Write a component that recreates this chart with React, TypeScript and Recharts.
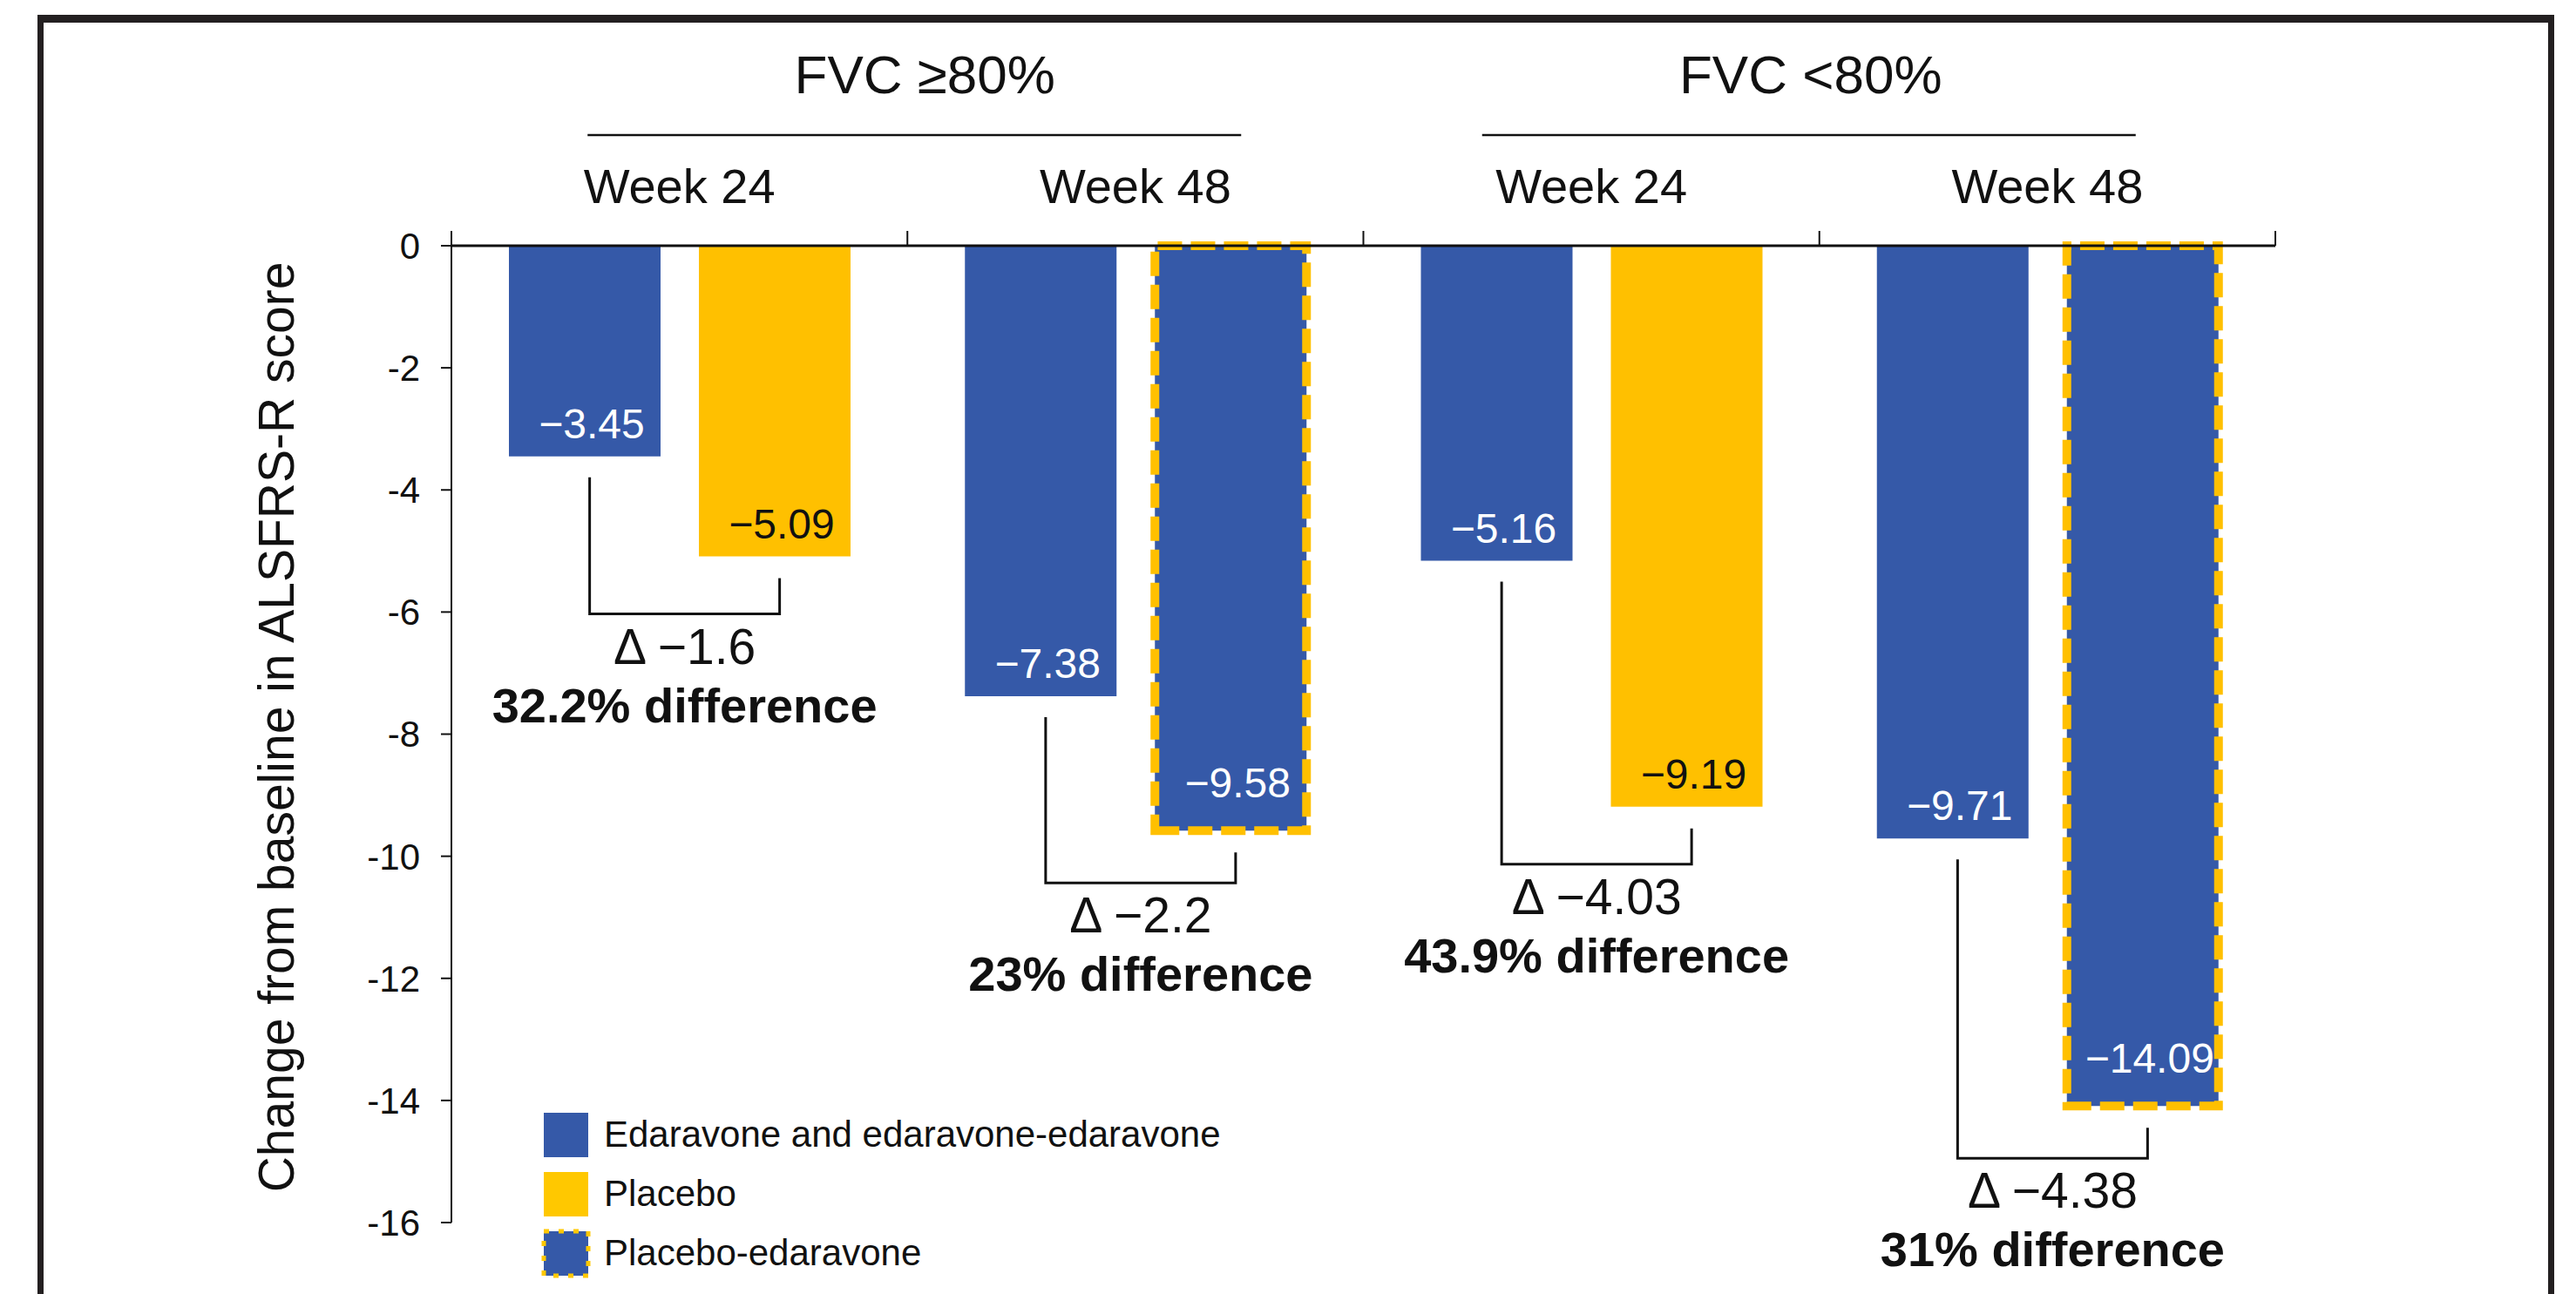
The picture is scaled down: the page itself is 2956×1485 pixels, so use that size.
import { BarChart, Bar, XAxis, YAxis, Cell, LabelList, Legend, ReferenceLine } from "recharts";

const groups = ["FVC ≥80%", "FVC ≥80%", "FVC <80%", "FVC <80%"];
const weeks = ["Week 24", "Week 48", "Week 24", "Week 48"];
const edaravone = [-3.45, -7.38, -5.16, -9.71];
const comparator = [-5.09, -9.58, -9.19, -14.09];
const comparatorArm = ["Placebo", "Placebo-edaravone", "Placebo", "Placebo-edaravone"];
const deltas = [-1.6, -2.2, -4.03, -4.38];
const pctDifference = [32.2, 23, 43.9, 31];
const yTicks = [0, -2, -4, -6, -8, -10, -12, -14, -16];
const legendItems = ["Edaravone and edaravone-edaravone", "Placebo", "Placebo-edaravone"];

const data = weeks.map((w, i) => ({
  key: `${groups[i]} ${w}`,
  edaravone: edaravone[i],
  comparator: comparator[i],
}));

const W = 2956;
const H = 1485;
const PLOT_LEFT = 518;
const PLOT_RIGHT = 2611;
const PLOT_TOP = 282;
const PLOT_BOTTOM = 1403;
const BAR = 174;
const GAP = 44;
const BAND = (PLOT_RIGHT - PLOT_LEFT) / weeks.length;
// small hand nudges of the group headers (text, rule) off the pair boundary
const HEADER_NUDGE: Record<string, [number, number]> = { "FVC ≥80%": [20, 8], "FVC <80%": [-10, -12] };

const INK = "#111";
const BLUE = "#3559A8";
const YELLOW = "#FFC000";
const FONT = '"Liberation Sans", Arial, sans-serif';

const minus = (v: number) => "\u2212" + Math.abs(v);
const minus2 = (v: number) => "\u2212" + Math.abs(v).toFixed(2);
const isSwitch = (i: number) => comparatorArm[i] === "Placebo-edaravone";

// week labels, category boundary ticks and the FVC group headers
const CategoryTick = ({ x, y, payload }: any) => {
  const i = data.findIndex((d) => d.key === payload.value);
  const half = BAND / 2;
  const startsGroup = i === 0 || groups[i] !== groups[i - 1];
  const [tx, lx] = HEADER_NUDGE[groups[i]] ?? [0, 0];
  return (
    <g>
      {i === 0 && <line x1={x - half} x2={x - half} y1={y} y2={y - 17} stroke={INK} strokeWidth={2} />}
      <line x1={x + half} x2={x + half} y1={y} y2={y - 17} stroke={INK} strokeWidth={2} />
      <text x={x} y={y - 49} textAnchor="middle" fontSize={56} fill={INK}>{weeks[i]}</text>
      {startsGroup && (
        <g>
          <text x={x + half + tx} y={y - 175} textAnchor="middle" fontSize={62} fill={INK}>{groups[i]}</text>
          <line x1={x + half + lx - 375} x2={x + half + lx + 375} y1={y - 127} y2={y - 127} stroke={INK} strokeWidth={2.5} />
        </g>
      )}
    </g>
  );
};

const valueLabel = (series: "edaravone" | "comparator") => (props: any) => {
  const { x, y, width, height, value } = props;
  const i = props.index ?? (series === "edaravone" ? edaravone : comparator).indexOf(value);
  const bottom = Math.max(y, y + height);
  const onYellow = series === "comparator" && !isSwitch(i);
  const lift = series === "comparator" && isSwitch(i) ? 38 : 21;
  return (
    <text x={x + width / 2 + 8} y={bottom - lift} textAnchor="middle" fontSize={48} fill={onYellow ? INK : "#fff"}>
      {minus2(value)}
    </text>
  );
};

// bracket joining the two bars of a category, with the difference text
const Bracket = ({ x1, y1, y2, i }: any) => {
  const lx = x1 - (BAR + GAP) / 2 + 6;
  const rx = x1 + (BAR + GAP) / 2 + 6;
  const hy = Math.max(y1, y2) + (isSwitch(i) ? 60 : 66);
  const cx = (lx + rx) / 2;
  return (
    <g>
      <polyline
        points={`${lx},${y1 + 24} ${lx},${hy} ${rx},${hy} ${rx},${y2 + 25}`}
        fill="none"
        stroke={INK}
        strokeWidth={3}
      />
      <text x={cx} y={hy + 57} textAnchor="middle" fontSize={57} fill={INK}>
        {"Δ " + minus(deltas[i])}
      </text>
      <text x={cx} y={hy + 124} textAnchor="middle" fontSize={56} fontWeight="bold" fill={INK}>
        {`${pctDifference[i]}% difference`}
      </text>
    </g>
  );
};

const YTitle = ({ viewBox }: any) => {
  const cy = viewBox.y + viewBox.height / 2 - 8;
  return (
    <text x={337} y={cy} transform={`rotate(-90, 337, ${cy})`} textAnchor="middle" fontSize={57} fill={INK}>
      Change from baseline in ALSFRS-R score
    </text>
  );
};

const LegendRows = () => (
  <div style={{ display: "flex", flexDirection: "column" }}>
    {legendItems.map((name, i) => (
      <div key={name} style={{ display: "flex", alignItems: "center", height: 68 }}>
        <svg width={57} height={57} style={{ marginRight: 15 }}>
          {i === 2 ? (
            <rect x={3} y={3} width={51} height={51} fill={BLUE} stroke="#FFC800" strokeWidth={5} strokeDasharray="6 11" />
          ) : (
            <rect x={3} y={3} width={51} height={51} fill={i === 0 ? BLUE : "#FFC800"} />
          )}
        </svg>
        <span style={{ fontSize: 42, color: INK, lineHeight: 1 }}>{name}</span>
      </div>
    ))}
  </div>
);

export default function App() {
  return (
    <div style={{ position: "absolute", left: 0, top: 0, width: W, height: H, overflow: "hidden", background: "#fff", fontFamily: FONT }}>
      <div
        style={{
          position: "absolute",
          left: 43,
          top: 17,
          width: 2931 - 43,
          height: 2000,
          boxSizing: "border-box",
          borderStyle: "solid",
          borderColor: "#231F20",
          borderWidth: "9px 7px 7px 7px",
        }}
      />
      <BarChart
        width={W}
        height={H}
        data={data}
        barGap={GAP}
        margin={{ top: PLOT_TOP - 100, right: W - PLOT_RIGHT, bottom: H - PLOT_BOTTOM, left: 0 }}
      >
        <Bar dataKey="edaravone" fill={BLUE} barSize={BAR} isAnimationActive={false}>
          <LabelList dataKey="edaravone" content={valueLabel("edaravone")} />
        </Bar>
        <Bar dataKey="comparator" barSize={BAR} isAnimationActive={false}>
          {data.map((d, i) =>
            isSwitch(i) ? (
              <Cell key={d.key} fill={BLUE} stroke={YELLOW} strokeWidth={10} strokeDasharray="28 10" />
            ) : (
              <Cell key={d.key} fill={YELLOW} />
            )
          )}
          <LabelList dataKey="comparator" content={valueLabel("comparator")} />
        </Bar>
        {data.map((d, i) => (
          <ReferenceLine
            key={"b" + d.key}
            segment={[{ x: d.key, y: d.edaravone }, { x: d.key, y: d.comparator }]}
            shape={(p: any) => <Bracket {...p} i={i} />}
          />
        ))}
        <XAxis
          dataKey="key"
          orientation="top"
          height={100}
          interval={0}
          axisLine={{ stroke: INK, strokeWidth: 3 }}
          tickLine={false}
          tickSize={0}
          tickMargin={0}
          tick={<CategoryTick />}
        />
        <YAxis
          type="number"
          domain={[-16, 0]}
          ticks={yTicks}
          width={PLOT_LEFT}
          axisLine={{ stroke: INK, strokeWidth: 2 }}
          tickLine={{ stroke: INK, strokeWidth: 2 }}
          tickSize={12}
          tickMargin={24}
          tick={{ fontSize: 42, fill: INK }}
          label={{ content: (p: any) => <YTitle {...p} /> }}
        />
        <Legend
          layout="vertical"
          align="center"
          verticalAlign="middle"
          content={<LegendRows />}
          wrapperStyle={{ left: 621, top: 1268, width: "auto" }}
        />
      </BarChart>
    </div>
  );
}
